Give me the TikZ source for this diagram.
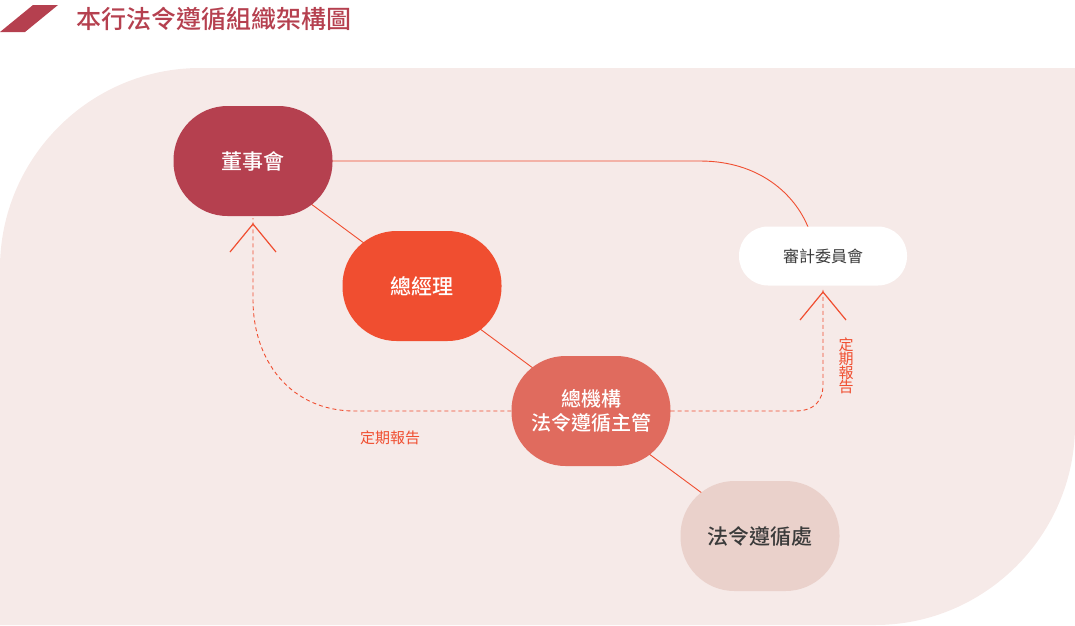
\documentclass[tikz,border=0pt]{standalone}
\usepackage{fontspec}
\usetikzlibrary{backgrounds}
\newfontfamily\cjk{Noto Sans CJK TC}
\newfontfamily\cjkb{Noto Sans CJK TC Medium}
\definecolor{bg}{HTML}{F6EAE8}
\definecolor{wine}{HTML}{B5404F}
\definecolor{orng}{HTML}{F04E30}
\definecolor{salm}{HTML}{E06B5E}
\definecolor{pale}{HTML}{EAD1CB}
\definecolor{dark}{HTML}{3A3A3A}
\begin{document}
\begin{tikzpicture}[x=1pt,y=-1pt,
  pill/.style={rounded corners=54pt,minimum width=159pt,minimum height=110pt,inner sep=0pt,align=center,font=\cjkb\fontsize{21}{25}\selectfont},
  conn/.style={orng,line width=0.9pt},
  rep/.style={orng,line width=0.9pt,dash pattern=on 4pt off 3pt},
  chev/.style={orng,line width=1.2pt}]
\useasboundingbox (0,0) rectangle (1075,625);
\fill[wine] (0,32) -- (33,5) -- (58,5) -- (25,32) -- cycle;
\node[anchor=west,wine,font=\cjkb\fontsize{25}{28}\selectfont,inner sep=0pt] (title) at (76,19) {本行法令遵循組織架構圖};
\node[pill,fill=wine,text=white] (board) at (253,161) {董事會};
\node[pill,fill=orng,text=white] (gm) at (422,286) {總經理};
\node[pill,fill=salm,text=white,font=\cjkb\fontsize{20}{24}\selectfont] (chief) at (591,411) {總機構\\法令遵循主管};
\node[pill,fill=pale,text=dark] (dept) at (760,536) {法令遵循處};
\node[rounded corners=29pt,fill=white,minimum width=168pt,minimum height=59pt,inner sep=0pt,text=dark,font=\cjk\fontsize{16}{19}\selectfont] (audit) at (823,256) {審計委員會};
\begin{pgfonlayer}{background}
\fill[bg] (0,625) -- (0,268) .. controls (0,158) and (90,68) .. (200,68) -- (1075,68) -- (1075,425) .. controls (1075,535) and (985,625) .. (875,625) -- cycle;
\draw[conn] (board.center) -- (gm.center);
\draw[conn] (gm.center) -- (chief.center);
\draw[conn] (chief.center) -- (dept.center);
\draw[conn] (board.center) -- (700,161) .. controls (760,161) and (795,195) .. (808,227) -- (audit.center);
\end{pgfonlayer}
\coordinate (la) at (253,218);
\coordinate (ra) at (823,287);
\draw[rep] (chief.west) -- (355,411) .. controls (290,411) and (253,360) .. (253,300) -- (la);
\draw[rep] (chief.east) -- (795,411) .. controls (815,411) and (823,400) .. (823,385) -- (ra);
\draw[chev] (230,252) -- (253,224) -- (276,252);
\draw[chev] (800,320) -- (823,292) -- (846,320);
\node[orng,font=\cjk\fontsize{15}{17}\selectfont] (l1) at (390,438) {定期報告};
\node[orng,font=\cjk\fontsize{15}{17}\selectfont,align=center,inner sep=0pt] (l2) at (846,366) {定\\[-3pt]期\\[-3pt]報\\[-3pt]告};
\end{tikzpicture}
\end{document}
